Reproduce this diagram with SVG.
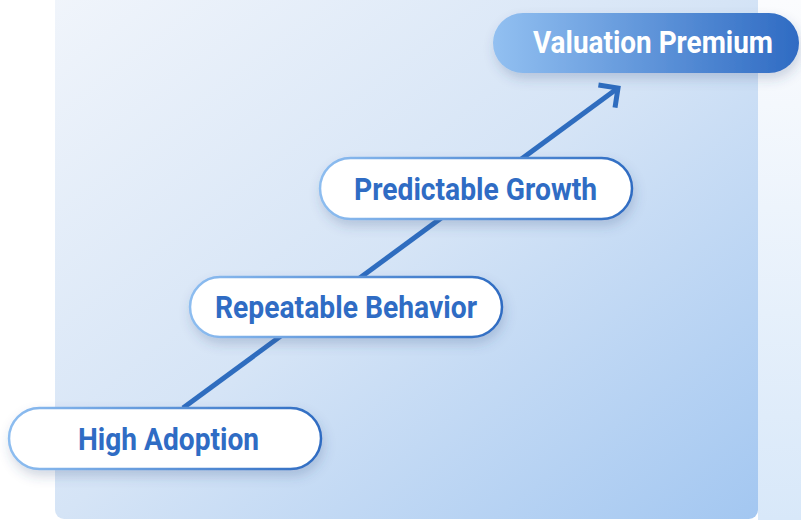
<svg xmlns="http://www.w3.org/2000/svg" width="801" height="520" viewBox="0 0 801 520">
  <defs>
    <linearGradient id="panelFill" x1="0" y1="0" x2="1" y2="1">
      <stop offset="0" stop-color="#f1f5fb"/>
      <stop offset="0.5" stop-color="#d5e4f6"/>
      <stop offset="1" stop-color="#a3c7f1"/>
    </linearGradient>
    <linearGradient id="sideFill" x1="0" y1="0" x2="0" y2="1">
      <stop offset="0" stop-color="#fbfcfe"/>
      <stop offset="1" stop-color="#d8e8f9"/>
    </linearGradient>
    <linearGradient id="pillStroke" x1="0" y1="0" x2="1" y2="0">
      <stop offset="0" stop-color="#8dbdf0"/>
      <stop offset="1" stop-color="#2f6cc2"/>
    </linearGradient>
    <linearGradient id="pillSolid" x1="0" y1="0" x2="1" y2="0">
      <stop offset="0" stop-color="#92c0f1"/>
      <stop offset="1" stop-color="#2f6bc3"/>
    </linearGradient>
    <filter id="softShadow" x="-20%" y="-40%" width="140%" height="200%">
      <feDropShadow dx="2" dy="6" stdDeviation="6" flood-color="#30507a" flood-opacity="0.22"/>
    </filter>
    <marker id="chevron" viewBox="0 0 30 30" refX="22" refY="15" markerWidth="30" markerHeight="30" markerUnits="userSpaceOnUse" orient="auto" overflow="visible">
      <path d="M8,1 L22,15 L8,29" fill="none" stroke="#2f6dbf" stroke-width="5" stroke-linejoin="miter"/>
    </marker>
    <style>
      .pill { fill: #ffffff; stroke: url(#pillStroke); stroke-width: 2.5; filter: url(#softShadow); }
      .label { font-family: Roboto, "Liberation Sans", sans-serif; font-weight: 700; font-size: 32px; fill: #2f6cc4; }
      .label-light { fill: #ffffff; }
      .connector { stroke: #2f6dbf; stroke-width: 5; fill: none; }
    </style>
  </defs>

  <!-- backdrop -->
  <rect x="0" y="0" width="801" height="520" fill="#ffffff"/>
  <rect x="758" y="0" width="43" height="520" fill="url(#sideFill)"/>
  <rect x="55" y="-20" width="703" height="539" rx="9" fill="url(#panelFill)"/>

  <!-- connectors -->
  <g id="connectors">
    <line class="connector" x1="183" y1="408" x2="618" y2="88" marker-end="url(#chevron)"/>
  </g>

  <g id="node-high-adoption">
    <rect class="pill" x="9" y="408" width="312" height="61" rx="30.5"/>
    <text class="label" x="78" y="450" textLength="181" lengthAdjust="spacingAndGlyphs">High Adoption</text>
  </g>

  <g id="node-repeatable-behavior">
    <rect class="pill" x="190" y="277" width="312" height="60" rx="30"/>
    <text class="label" x="215" y="318" textLength="262" lengthAdjust="spacingAndGlyphs">Repeatable Behavior</text>
  </g>

  <g id="node-predictable-growth">
    <rect class="pill" x="320" y="158" width="312" height="61" rx="30.5"/>
    <text class="label" x="354" y="200" textLength="243" lengthAdjust="spacingAndGlyphs">Predictable Growth</text>
  </g>

  <g id="node-valuation-premium">
    <rect x="493" y="13" width="306" height="60" rx="30" fill="url(#pillSolid)" filter="url(#softShadow)"/>
    <text class="label label-light" x="533" y="53" textLength="240" lengthAdjust="spacingAndGlyphs">Valuation Premium</text>
  </g>
</svg>
